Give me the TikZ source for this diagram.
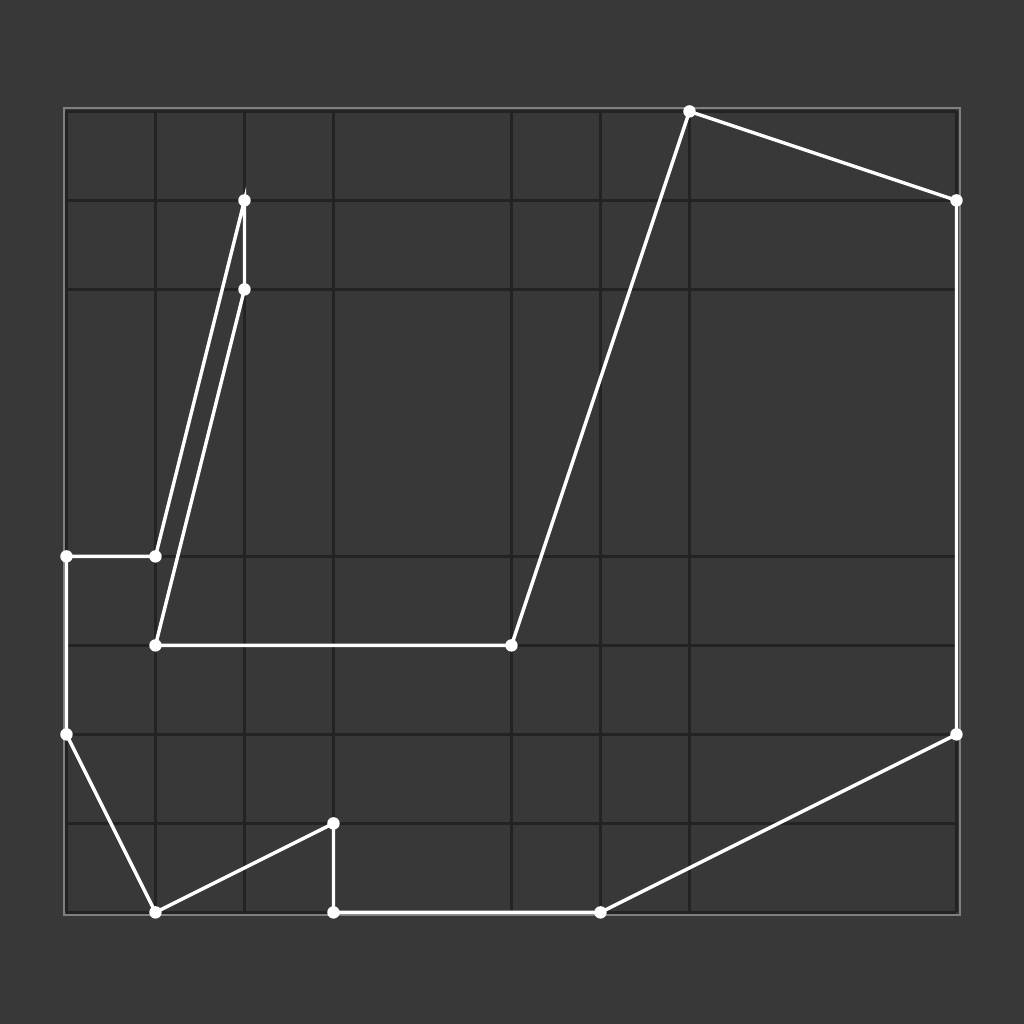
\documentclass[tikz,border=0pt]{standalone}
\usetikzlibrary{backgrounds}
\definecolor{bgdark}{HTML}{383838}
\definecolor{gridline}{HTML}{232323}
\definecolor{framegray}{HTML}{808080}
\tikzset{
  gridrule/.style={gridline, line width=1.2pt},
  outline/.style={white, line width=1.1pt},
  vertexdot/.style={white},
}
\begin{document}
\begin{tikzpicture}
% Background and page size
\fill[bgdark] (-0.747,-1.254) rectangle (10.758,10.252);
\useasboundingbox (-0.747,-1.254) rectangle (10.758,10.252);

% Grid lines at the used coordinates
\foreach \x in {0,1,2,3,5,6,7,10}
  \draw[gridrule] (\x,0) -- (\x,9);
\foreach \y in {0,1,2,3,4,7,8,9}
  \draw[gridrule] (0,\y) -- (10,\y);

% Frame
\draw[framegray, line width=0.65pt] (-0.03,-0.03) rectangle (10.04,9.04);

% Vertices
\coordinate (pA) at (7,9);
\coordinate (pB) at (10,8);
\coordinate (pC) at (10,2);
\coordinate (pD) at (6,0);
\coordinate (pE) at (3,0);
\coordinate (pF) at (3,1);
\coordinate (pG) at (1,0);
\coordinate (pH) at (0,2);
\coordinate (pI) at (0,4);
\coordinate (pJ) at (1,4);
\coordinate (pK) at (2,8);
\coordinate (pL) at (2,7);
\coordinate (pM) at (1,3);
\coordinate (pN) at (5,3);

% Polygon
\draw[outline] (pA) -- (pB) -- (pC) -- (pD) -- (pE) -- (pF) -- (pG)
  -- (pH) -- (pI) -- (pJ) -- (pK) -- (pL) -- (pM) -- (pN) -- cycle;

\foreach \p in {pA,pB,pC,pD,pE,pF,pG,pH,pI,pJ,pK,pL,pM,pN}
  \fill[vertexdot] (\p) circle (0.07);
\end{tikzpicture}
\end{document}
